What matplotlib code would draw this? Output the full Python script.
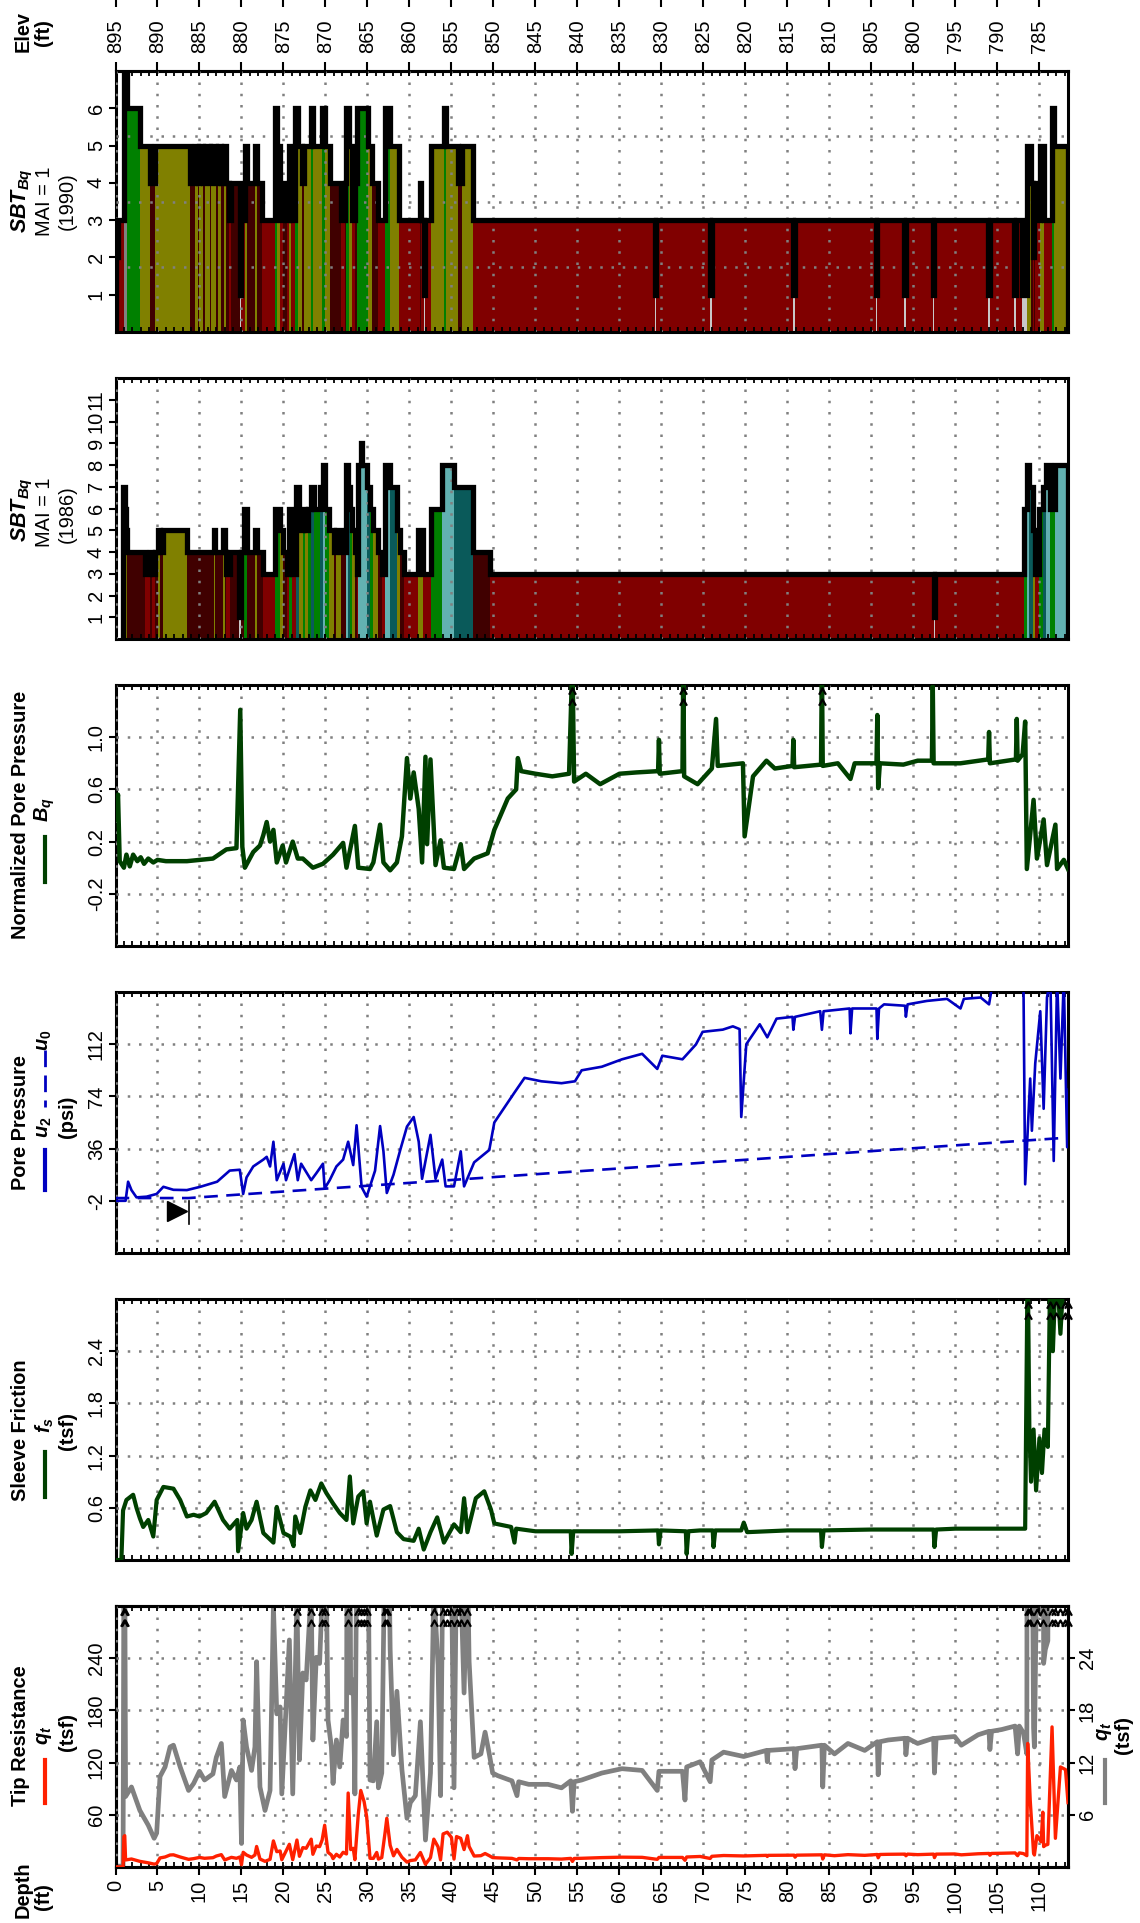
import numpy as np
import matplotlib
matplotlib.use("Agg")
import matplotlib.pyplot as plt
from matplotlib.lines import Line2D
from matplotlib.path import Path
from matplotlib.ticker import MultipleLocator, FixedLocator

plt.rcParams["font.family"] = "Liberation Sans"
plt.rcParams["mathtext.fontset"] = "custom"
plt.rcParams["mathtext.rm"] = "Liberation Sans:bold"
plt.rcParams["mathtext.it"] = "Liberation Sans:italic:bold"
plt.rcParams["mathtext.bf"] = "Liberation Sans:bold"

# --- data (depth in ft) ------------------------------------------------------

elev_ticks = [895, 890, 885, 880, 875, 870, 865, 860, 855, 850, 845, 840, 835,
              830, 825, 820, 815, 810, 805, 800, 795, 790, 785]
depth_ticks = list(range(0, 115, 5))

# SBT (Robertson 1990), interval edges and zone numbers
sbt90_edges = [0.0, 0.3, 1.0, 1.4, 2.9, 4.1, 4.7, 8.9, 9.5, 9.8, 10.0, 10.4, 10.6,
               11.2, 11.4, 12.0, 12.2, 12.6, 12.9, 13.2, 13.5, 13.8, 14.8, 15.0,
               15.4, 15.7, 16.6, 16.9, 17.5, 19.0, 19.2, 19.6, 20.0, 20.4, 20.6,
               20.9, 21.4, 21.7, 22.2, 22.5, 23.3, 23.5, 24.6, 24.9, 25.5, 26.9,
               27.3, 27.5, 27.8, 28.1, 28.5, 28.8, 30.1, 30.5, 31.3, 32.1, 32.7,
               33.7, 36.2, 36.4, 36.7, 36.9, 37.6, 39.1, 39.3, 40.8, 41.2, 42.6,
               64.2, 64.4, 70.8, 71.0, 80.7, 80.9, 90.5, 90.7, 93.9, 94.1, 97.3,
               97.5, 103.9, 104.1, 107.0, 107.2, 107.9, 108.5, 109.0, 109.2,
               109.4, 109.5, 110.1, 110.5, 111.5, 111.7, 113.4]
sbt90_zone = [2, 3, 7, 6, 5, 4, 5, 4, 5, 4, 5, 4, 5, 4, 5, 4, 5, 4, 5, 4, 3, 4,
              1, 3, 5, 4, 5, 4, 3, 6, 5, 3, 4, 3, 5, 3, 6, 5, 4, 5, 6, 5, 6, 5,
              4, 3, 4, 6, 5, 3, 4, 6, 5, 4, 3, 6, 5, 3, 4, 3, 1, 3, 5, 6, 5, 4,
              5, 3, 1, 3, 1, 3, 1, 3, 1, 3, 1, 3, 1, 3, 1, 3, 1, 3, 1, 5, 4, 2,
              4, 3, 5, 3, 6, 5]

# SBT (Robertson 1986)
sbt86_edges = [0.9, 1.1, 1.2, 1.4, 3.5, 4.1, 4.3, 4.7, 5.1, 5.3, 5.7, 8.5, 11.7,
               11.9, 12.8, 13.0, 13.2, 13.6, 14.7, 15.0, 15.3, 15.6, 16.6, 16.9,
               17.6, 19.0, 19.6, 20.0, 20.4, 20.7, 21.0, 21.5, 21.8, 22.3, 22.6,
               22.9, 23.3, 23.6, 24.4, 24.7, 25.0, 25.4, 26.0, 26.3, 26.9, 27.5,
               27.7, 27.9, 28.2, 28.5, 28.7, 28.9, 29.2, 29.4, 29.9, 30.3, 30.7,
               31.3, 31.7, 32.1, 32.7, 33.5, 33.9, 34.3, 36.0, 36.6, 37.6, 38.9,
               40.3, 42.6, 44.6, 97.4, 97.6, 108.2, 108.5, 108.8, 109.2, 109.5,
               110.0, 110.4, 110.8, 111.3, 111.8, 113.4]
sbt86_zone = [7, 6, 5, 4, 3, 4, 3, 4, 5, 4, 5, 4, 5, 4, 5, 4, 3, 4, 1, 4, 6, 4,
              5, 4, 3, 6, 5, 4, 3, 6, 3, 7, 5, 6, 5, 6, 7, 6, 7, 8, 6, 5, 4, 5,
              4, 8, 7, 6, 5, 4, 3, 8, 9, 8, 7, 6, 5, 4, 3, 8, 7, 5, 4, 3, 5, 3,
              6, 8, 7, 4, 3, 1, 3, 6, 8, 7, 5, 3, 6, 7, 8, 6, 8]

# Normalized pore pressure Bq
bq_depth = [0.0, 0.3, 0.5, 1.0, 1.3, 1.7, 2.1, 2.6, 3.0, 3.4, 3.9, 4.5, 5.0, 6.0,
            8.5, 11.6, 13.2, 14.4, 14.85, 15.1, 15.4, 16.4, 17.2, 17.6, 18.0,
            18.4, 18.8, 19.2, 19.9, 20.3, 21.1, 21.7, 22.3, 23.5, 24.7, 25.9,
            27.1, 27.5, 28.5, 28.9, 30.3, 30.7, 31.5, 31.9, 32.7, 33.5, 34.1,
            34.7, 35.1, 35.5, 36.1, 36.5, 36.9, 37.1, 37.5, 38.1, 38.7, 39.1,
            40.3, 41.1, 41.5, 42.7, 44.3, 45.1, 46.7, 47.7, 47.9, 48.3, 50.0,
            52.0, 54.0, 54.4, 54.6, 56.0, 57.7, 60.0, 62.0, 64.6, 64.7, 64.8,
            67.5, 67.6, 67.7, 69.3, 71.0, 71.5, 71.7, 74.7, 74.9, 75.9, 77.5,
            78.5, 80.6, 80.7, 80.8, 84.0, 84.1, 84.2, 86.0, 87.5, 88.0, 90.6,
            90.7, 90.8, 91.0, 93.8, 95.5, 97.2, 97.3, 97.4, 100.6, 103.9, 104.0,
            104.1, 107.2, 107.3, 107.4, 108.0, 108.3, 108.5, 109.3, 109.7, 110.5,
            110.9, 111.9, 112.1, 112.9, 113.4]
bq_value = [0.37, 0.56, 0.05, 0.0, 0.10, 0.01, 0.10, 0.05, 0.08, 0.03, 0.07, 0.04,
            0.06, 0.05, 0.05, 0.07, 0.14, 0.15, 1.21, 0.16, 0.0, 0.12, 0.17, 0.25,
            0.35, 0.20, 0.29, 0.04, 0.17, 0.04, 0.20, 0.07, 0.07, 0.0, 0.03, 0.10,
            0.19, 0.0, 0.32, 0.0, -0.01, 0.04, 0.33, 0.04, -0.02, 0.04, 0.24, 0.84,
            0.53, 0.73, 0.45, 0.04, 0.85, 0.18, 0.83, 0.02, 0.21, 0.0, -0.01, 0.18,
            -0.01, 0.07, 0.11, 0.29, 0.53, 0.60, 0.84, 0.74, 0.72, 0.70, 0.72, 1.6,
            0.66, 0.72, 0.64, 0.72, 0.73, 0.74, 0.98, 0.72, 0.74, 1.6, 0.70, 0.64,
            0.76, 1.14, 0.78, 0.80, 0.24, 0.70, 0.82, 0.76, 0.78, 0.98, 0.77, 0.79,
            1.6, 0.78, 0.80, 0.68, 0.80, 0.80, 1.17, 0.61, 0.80, 0.79, 0.82, 0.82,
            1.39, 0.80, 0.80, 0.83, 1.04, 0.80, 0.83, 1.14, 0.82, 0.87, 1.12,
            -0.01, 0.52, 0.07, 0.37, 0.02, 0.33, -0.01, 0.06, -0.01]

# Pore pressure u2 and hydrostatic u0 (psi)
u2_depth = [0.0, 1.2, 1.5, 1.9, 2.5, 3.7, 4.9, 5.7, 6.9, 8.5, 10.1, 12.1, 13.6,
            14.8, 15.2, 15.6, 16.4, 17.6, 18.0, 18.4, 18.8, 19.2, 20.0, 20.3,
            21.3, 21.7, 22.1, 22.7, 23.3, 23.9, 24.7, 24.9, 25.5, 26.3, 27.1,
            27.7, 28.3, 28.7, 29.3, 29.9, 30.9, 31.5, 31.9, 32.3, 33.1, 33.9,
            34.7, 35.5, 36.1, 36.5, 37.5, 38.1, 38.9, 39.3, 40.3, 41.1, 41.5,
            42.7, 44.5, 45.1, 47.5, 48.7, 50.7, 53.1, 54.7, 55.5, 57.9, 60.3,
            62.7, 64.5, 65.1, 67.5, 69.1, 69.9, 72.3, 73.5, 74.3, 74.5, 75.1,
            76.7, 77.6, 78.7, 80.6, 80.7, 80.9, 83.9, 84.1, 84.3, 87.4, 87.5,
            87.7, 90.6, 90.7, 90.9, 91.5, 94.0, 94.1, 94.3, 96.6, 99.0, 100.6,
            101.0, 103.0, 104.0, 104.3, 108.1, 108.3, 108.9, 109.1, 109.5, 110.1,
            110.5, 110.9, 111.3, 111.7, 112.1, 112.5, 112.9, 113.3, 113.5]
u2_value = [-2, -2, 11.9, 5.8, 0.5, 1.0, 3.0, 8.2, 6.0, 5.8, 8.2, 11.9, 20.0,
            20.6, 3.0, 15.0, 23.0, 28.0, 30.0, 23.0, 41.0, 13.0, 25.0, 13.0,
            32.0, 13.0, 25.0, 19.0, 13.0, 18.0, 25.0, 7.0, 13.0, 23.0, 28.0,
            41.0, 24.0, 53.0, 8.0, 1.0, 19.9, 52.4, 34.0, 3.7, 17.0, 35.0, 52.0,
            59.0, 41.0, 14.0, 46.0, 14.0, 28.0, 8.5, 8.5, 34.0, 8.5, 26.0, 35.0,
            55.0, 76.8, 87.5, 85.0, 83.6, 85.0, 93.0, 95.6, 101.0, 105.0, 94.0,
            103.6, 101.0, 111.8, 121.0, 122.6, 125.0, 123.0, 59.0, 112.0, 126.5,
            117.0, 130.6, 131.9, 122.5, 131.9, 136.0, 122.5, 136.0, 138.0, 119.9,
            138.0, 138.0, 115.8, 138.0, 141.0, 140.0, 132.0, 141.0, 143.5, 145.0,
            138.0, 145.0, 146.0, 141.0, 152.0, 155.0, 10.0, 87.0, 49.0, 98.0,
            136.0, 65.0, 146.0, 160.0, 27.0, 160.0, 87.0, 160.0, 37.0, 79.0]
u0_depth = [0.0, 8.7, 113.4]
u0_value = [0.0, 0.0, 44.0]
water_table = 8.7

# Sleeve friction fs (tsf)
fs_depth = [0.0, 0.7, 0.9, 1.3, 2.1, 2.5, 2.9, 3.3, 3.9, 4.5, 4.9, 5.7, 6.9, 7.7,
            8.5, 9.3, 10.0, 10.8, 11.8, 12.8, 13.6, 14.5, 14.6, 15.2, 15.6, 16.2,
            16.8, 17.6, 18.8, 19.2, 20.0, 20.8, 21.2, 21.4, 22.0, 22.6, 23.2,
            23.8, 24.5, 25.1, 25.9, 26.7, 27.5, 27.9, 28.3, 28.9, 29.5, 29.9,
            30.3, 31.1, 31.9, 32.7, 33.5, 34.3, 35.5, 36.1, 36.7, 37.5, 38.3,
            39.1, 40.3, 41.1, 41.5, 41.9, 42.9, 43.9, 44.7, 45.1, 47.1, 47.5,
            47.7, 50.0, 54.2, 54.3, 54.5, 60.0, 64.6, 64.7, 64.9, 67.9, 68.0,
            68.2, 69.6, 71.1, 71.2, 71.4, 74.5, 74.8, 75.2, 80.0, 84.0, 84.1,
            84.3, 90.0, 97.4, 97.5, 97.7, 100.0, 104.0, 108.3, 108.6, 108.8,
            109.0, 109.3, 109.6, 110.0, 110.3, 110.6, 111.0, 111.3, 111.6, 112.0,
            112.5, 113.0, 113.4]
fs_value = [0.0, 0.0, 0.57, 0.69, 0.75, 0.60, 0.48, 0.38, 0.46, 0.27, 0.69, 0.84,
            0.82, 0.69, 0.50, 0.52, 0.50, 0.54, 0.67, 0.46, 0.36, 0.46, 0.10, 0.54,
            0.36, 0.46, 0.67, 0.31, 0.20, 0.61, 0.31, 0.27, 0.16, 0.50, 0.31, 0.61,
            0.80, 0.69, 0.88, 0.77, 0.65, 0.54, 0.46, 0.96, 0.42, 0.73, 0.79, 0.42,
            0.67, 0.28, 0.58, 0.62, 0.32, 0.24, 0.22, 0.36, 0.12, 0.32, 0.49, 0.20,
            0.41, 0.32, 0.71, 0.32, 0.71, 0.79, 0.58, 0.42, 0.38, 0.20, 0.36, 0.33,
            0.33, 0.07, 0.33, 0.33, 0.34, 0.18, 0.34, 0.33, 0.07, 0.33, 0.34, 0.34,
            0.15, 0.34, 0.34, 0.43, 0.32, 0.34, 0.34, 0.15, 0.34, 0.35, 0.35, 0.15,
            0.35, 0.36, 0.36, 0.36, 3.5, 1.5, 0.9, 1.5, 0.8, 1.4, 1.0, 1.5, 1.3,
            3.5, 2.4, 3.5, 2.6, 3.5, 3.5]

# Tip resistance qt (tsf)
qt_depth = [0.0, 0.9, 1.0, 1.1, 1.2, 1.9, 2.9, 3.9, 4.6, 4.9, 5.3, 5.9, 6.5, 6.9,
            7.7, 8.7, 9.3, 10.0, 10.6, 11.6, 12.0, 12.6, 13.0, 13.8, 14.4, 14.8,
            15.0, 15.2, 15.6, 16.2, 16.6, 16.8, 17.2, 17.8, 18.4, 18.8, 19.2,
            19.6, 19.8, 20.7, 21.1, 21.6, 21.9, 22.3, 22.7, 23.3, 23.5, 23.9,
            24.3, 24.6, 24.9, 25.3, 25.7, 25.9, 26.3, 26.7, 27.1, 27.5, 27.7,
            28.0, 28.3, 28.5, 28.9, 29.2, 29.6, 29.9, 30.3, 30.7, 31.1, 31.3,
            31.7, 32.1, 32.3, 32.7, 33.1, 33.5, 34.1, 34.7, 35.1, 35.7, 36.3,
            36.9, 37.5, 37.9, 38.4, 38.7, 39.0, 39.5, 40.0, 40.3, 40.6, 41.1,
            41.5, 41.9, 42.1, 42.7, 43.5, 44.0, 44.5, 44.9, 45.5, 47.2, 47.8,
            48.0, 49.2, 51.5, 53.1, 54.2, 54.4, 54.6, 55.5, 57.9, 60.3, 62.7,
            64.5, 64.7, 67.5, 67.8, 68.0, 69.6, 70.8, 71.0, 72.4, 74.8, 77.5,
            77.6, 77.7, 80.8, 80.9, 81.1, 84.1, 84.2, 84.4, 85.6, 87.2, 89.2,
            90.7, 90.8, 91.0, 92.0, 94.0, 94.1, 94.3, 95.5, 97.4, 97.5, 97.7,
            99.9, 100.7, 102.7, 104.0, 104.1, 104.3, 105.5, 107.1, 107.4, 107.6,
            108.1, 108.5, 108.6, 108.9, 109.3, 109.4, 109.7, 110.2, 110.4, 110.5,
            110.7, 111.0, 111.5, 111.9, 112.5, 113.1, 113.4]
qt_value = [0.1, 0.1, 35, 36, 8.1, 9.2, 6.5, 4.8, 3.3, 3.9, 10.4, 11.5, 13.8, 14.0,
            11.5, 8.8, 9.6, 11.0, 10.0, 10.7, 12.6, 14.2, 8.1, 11.1, 10.0, 11.5,
            2.7, 16.9, 13.8, 11.1, 13.8, 23.6, 9.2, 6.5, 8.8, 30.0, 17.6, 18.4,
            8.4, 26.1, 8.4, 31, 12.3, 22.3, 21.5, 32, 14.6, 24.1, 23.4, 31, 48,
            16.9, 13.8, 9.6, 14.6, 11.5, 16.9, 15, 85, 20, 21.5, 8.4, 60, 88, 75,
            58, 10, 9.9, 16.7, 9.1, 10.8, 40, 56, 25, 12.9, 20.2, 11.2, 5.6, 7.4,
            8.2, 16.7, 3.1, 10.8, 32, 23.2, 8.2, 38, 40, 34, 9.1, 35, 33, 20, 36,
            23.6, 12.6, 13.0, 15.5, 13.0, 10.8, 10.5, 9.9, 8.2, 9.8, 9.5, 9.5,
            9.1, 9.9, 6.4, 9.8, 10.0, 10.8, 11.3, 11.1, 8.8, 11.0, 11.0, 7.7,
            11.5, 12.1, 9.8, 12.3, 13.2, 12.7, 13.4, 12.1, 13.4, 13.6, 11.3, 13.6,
            14.0, 9.2, 14.0, 13.0, 14.2, 13.4, 14.4, 10.6, 14.4, 14.6, 14.8, 12.9,
            14.8, 14.2, 14.8, 10.8, 14.8, 15.0, 14.0, 15.2, 15.6, 13.5, 15.6,
            15.8, 16.2, 13.0, 16.2, 15.4, 13.0, 142, 77, 16, 13.8, 36, 29, 63,
            23.4, 25, 26, 161, 33, 115, 112, 74]

# --- colours ---------------------------------------------------------------

zone90_colors = {1: "#c8c8c8", 2: "#800000", 3: "#800000", 4: "#400000",
                 5: "#808000", 6: "#008000", 7: "#808080"}
zone86_colors = {1: "#c8c8c8", 3: "#800000", 4: "#400000", 5: "#808000",
                 6: "#008000", 7: "#0a5a5a", 8: "#62b1b1", 9: "#62b1b1"}
GREEN = "#004000"
BLUE = "#0000c0"
RED = "#ff2000"
GRAY = "#808080"

# --- layout ------------------------------------------------------------------

W, H = 1140, 1923
X0, X1 = 115.5, 1068.0
DMAX = 113.4
TICK_FS = 14.5
LAB_FS = 14.4
GRID = dict(color=GRAY, linestyle=(0, (1, 3.5)), linewidth=1.8)
panels_px = [(71, 332), (378, 639), (685, 946), (992, 1253), (1299, 1560), (1606, 1867)]

fig = plt.figure(figsize=(W / 100, H / 100), dpi=100)


def fy(y):
    return 1 - y / H


def make_panel(top, bottom):
    ax = fig.add_axes([X0 / W, fy(bottom), (X1 - X0) / W, (bottom - top) / H])
    ax.set_xlim(0, DMAX)
    ax.xaxis.set_major_locator(MultipleLocator(5))
    ax.xaxis.set_minor_locator(MultipleLocator(1))
    ax.xaxis.remove_overlapping_locs = False
    ax.tick_params(axis="x", which="both", direction="in", top=True, bottom=True,
                   length=3.5, width=1.3, labelbottom=False)
    ax.tick_params(axis="y", direction="out", length=5, width=1.5,
                   labelsize=TICK_FS, pad=2, labelrotation=90)
    for s in ax.spines.values():
        s.set_linewidth(2.2)
    ax.grid(True, axis="x", which="major", **GRID)
    ax.set_axisbelow(False)
    return ax


def fix_ylabels(ax):
    for t in ax.get_yticklabels():
        t.set_va("center")


def grid_y(ax, ys):
    ax.yaxis.set_minor_locator(FixedLocator(ys))
    ax.tick_params(axis="y", which="minor", length=0)
    ax.grid(True, axis="y", which="minor", **GRID)


chevron = Path([(-0.55, -1.0), (0.0, 0.0), (0.55, -1.0)],
               [Path.MOVETO, Path.LINETO, Path.LINETO])


def over_arrows(ax, depth, value, top):
    d = np.asarray(depth)
    v = np.asarray(value)
    xs = d[v > top]
    tr = ax.get_xaxis_transform()
    for yy in (0.99, 0.945):
        ax.plot(xs, np.full(len(xs), yy), ls="none", marker=chevron, ms=9,
                mfc="none", mec="black", mew=1.6, transform=tr, clip_on=False, zorder=5)


def sbt_panel(ax, edges, zones, colors, ymax):
    e = np.asarray(edges)
    z = np.asarray(zones)
    ax.bar(e[:-1], z, width=np.diff(e), align="edge",
           color=[colors[k] for k in zones], linewidth=0, zorder=1)
    ax.stairs(z, e, baseline=0, fill=False, color="black", linewidth=3.8, zorder=3)
    ax.set_ylim(0, ymax)


# SBT 1990
ax1 = make_panel(*panels_px[0])
sbt_panel(ax1, sbt90_edges, sbt90_zone, zone90_colors, 7)
ax1.set_yticks([1, 2, 3, 4, 5, 6])
grid_y(ax1, [1.75, 3.5, 5.25])
sec = ax1.secondary_xaxis("top")
sec.set_xticks(depth_ticks)
sec.tick_params(direction="out", length=6.5, width=1.5, labeltop=False)
sec.spines["top"].set_linewidth(2.2)
fix_ylabels(ax1)

# SBT 1986
ax2 = make_panel(*panels_px[1])
sbt_panel(ax2, sbt86_edges, sbt86_zone, zone86_colors, 12)
ax2.set_yticks(list(range(1, 12)))
grid_y(ax2, [2, 4, 6, 8, 10])
fix_ylabels(ax2)

# Bq
ax3 = make_panel(*panels_px[2])
ax3.plot(bq_depth, bq_value, color=GREEN, lw=3.2, zorder=3, solid_joinstyle="round")
ax3.set_ylim(-0.6, 1.4)
ax3.set_yticks([-0.2, 0.2, 0.6, 1.0])
ax3.set_yticklabels(["-0.2", "0.2", "0.6", "1.0"])
ax3.grid(True, axis="y", **GRID)
over_arrows(ax3, bq_depth, bq_value, 1.4)
fix_ylabels(ax3)

# pore pressure
ax4 = make_panel(*panels_px[3])
ax4.plot(u2_depth, u2_value, color=BLUE, lw=1.9, zorder=3)
ax4.plot(u0_depth, u0_value, color=BLUE, lw=1.9, dashes=(5.2, 3.2), zorder=3)
ax4.plot([water_table - 1.4], [-9.5], marker=">", ms=15, color="black", ls="none", zorder=4)
ax4.plot([water_table, water_table], [-19, -2], color="black", lw=1.2, zorder=4)
ax4.set_ylim(-40, 150)
ax4.set_yticks([-2, 36, 74, 112])
ax4.set_yticklabels(["-2", "36", "74", "112"])
ax4.grid(True, axis="y", **GRID)
fix_ylabels(ax4)

# sleeve friction
ax5 = make_panel(*panels_px[4])
ax5.plot(fs_depth, fs_value, color=GREEN, lw=3.0, zorder=3, solid_joinstyle="round")
ax5.set_ylim(0, 3.0)
ax5.set_yticks([0.6, 1.2, 1.8, 2.4])
ax5.set_yticklabels(["0.6", "1.2", "1.8", "2.4"])
ax5.grid(True, axis="y", **GRID)
over_arrows(ax5, fs_depth, fs_value, 3.0)
fix_ylabels(ax5)

# tip resistance: red on 0-300, grey on 0-30
ax6 = make_panel(*panels_px[5])
tw = ax6.twinx()
tw.plot(qt_depth, qt_value, color=GRAY, lw=3.4, zorder=2, solid_joinstyle="round")
tw.set_ylim(0, 30)
tw.set_yticks([6, 12, 18, 24])
tw.tick_params(axis="y", direction="out", length=5, width=1.5, labelsize=TICK_FS,
               pad=2, labelrotation=90)
for s in tw.spines.values():
    s.set_linewidth(2.2)
over_arrows(tw, qt_depth, qt_value, 30)
for t in tw.get_yticklabels():
    t.set_va("center")
ax6.set_zorder(tw.get_zorder() + 1)
ax6.patch.set_visible(False)
ax6.plot(qt_depth, qt_value, color=RED, lw=2.4, zorder=3)
ax6.set_ylim(0, 300)
ax6.set_yticks([60, 120, 180, 240])
ax6.grid(True, axis="y", **GRID)
ax6.set_xticks(depth_ticks)
ax6.tick_params(axis="x", which="major", direction="out", length=6, width=1.5,
                top=False, labelbottom=True, labelsize=TICK_FS, labelrotation=90, pad=3)
fix_ylabels(ax6)

# elevation axis at the very top
axe = fig.add_axes([X0 / W, 1.0, (X1 - X0) / W, 0.01])
axe.set_xlim(895, 895 - DMAX)
axe.set_xticks(elev_ticks)
axe.set_yticks([])
axe.tick_params(axis="x", bottom=True, top=False, direction="out", length=5, width=1.5,
                labelsize=TICK_FS, labelrotation=90, pad=9)
for s in axe.spines.values():
    s.set_visible(False)
axe.patch.set_visible(False)

# --- labels ----------------------------------------------------------------


def label(x, y, s, bold=True, size=LAB_FS, **kw):
    fig.text(x / W, fy(y), s, rotation=90, ha="center", va="center", fontsize=size,
             fontweight="bold" if bold else "normal", **kw)


def dash(x, y0, y1, color, lw=3.0, **kw):
    fig.add_artist(Line2D([x / W, x / W], [fy(y0), fy(y1)], transform=fig.transFigure,
                          color=color, lw=lw, **kw))


label(23, 32, "Elev")
label(43, 33, "(ft)")

label(22, 201, r"$\mathit{SBT}_{\mathit{Bq}}$", size=15.5)
label(44, 201, "MAI = 1", bold=False)
label(67, 201, "(1990)", bold=False)

label(22, 510, r"$\mathit{SBT}_{\mathit{Bq}}$", size=15.5)
label(44, 512, "MAI = 1", bold=False)
label(67, 514, "(1986)", bold=False)

label(21, 815, "Normalized Pore Pressure")
dash(45, 837, 882, GREEN)
label(45, 810, r"$\mathit{B_q}$")

label(21, 1123, "Pore Pressure")
dash(45, 1150, 1190, BLUE)
label(45, 1127, r"$\mathit{u_2}$")
dash(45, 1050, 1107, BLUE, lw=2.0, dashes=(6, 3))
label(45, 1040, r"$\mathit{u_0}$")
label(68, 1117, "(psi)")

label(21, 1430, "Sleeve Friction")
dash(45, 1452, 1497, GREEN)
label(45, 1425, r"$\mathit{f_s}$")
label(68, 1431, "(tsf)")

label(21, 1736, "Tip Resistance")
dash(45, 1760, 1803, RED)
label(45, 1735, r"$\mathit{q_t}$")
label(68, 1732, "(tsf)")

dash(1105, 1760, 1803, GRAY)
label(1105, 1731, r"$\mathit{q_t}$")
label(1123, 1735, "(tsf)")

label(23, 1890, "Depth")
label(43, 1897, "(ft)")

fig.savefig("out.png", dpi=100)
